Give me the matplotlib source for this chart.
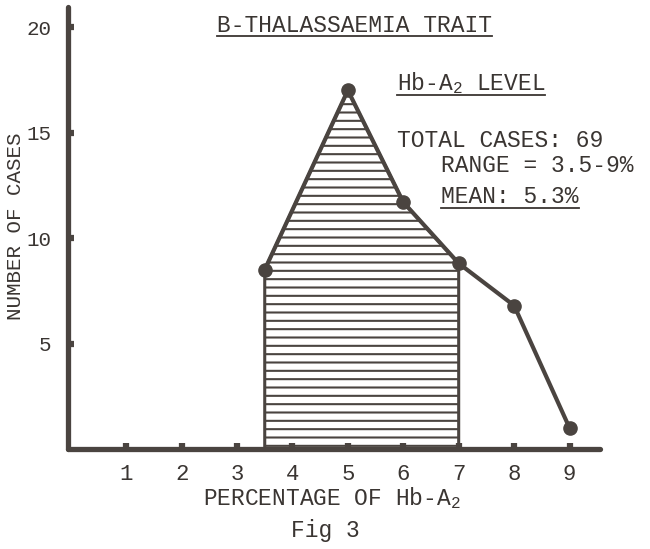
import matplotlib
matplotlib.use("Agg")
import matplotlib.pyplot as plt
from matplotlib.lines import Line2D

# ---- data ----
pct = [3.5, 5, 6, 7, 8, 9]
cases = [8.5, 17, 11.7, 8.8, 6.8, 1.0]
shade_pct = [3.5, 5, 6, 7]
shade_cases = [8.5, 17, 11.7, 8.8]
xticks = [1, 2, 3, 4, 5, 6, 7, 8, 9]
yticks = [5, 10, 15, 20]
ytick_labels = ["5", "10", "15", "20"]

title = "B-THALASSAEMIA TRAIT"
subtitle = "Hb-A$_2$ LEVEL"
info1 = "TOTAL CASES: 69"
info2 = "RANGE = 3.5-9%"
info3 = "MEAN: 5.3%"
xlabel = "PERCENTAGE OF Hb-A$_2$"
ylabel = "NUMBER OF CASES"
caption = "Fig 3"

INK = "#3a3532"
LINE = "#4a4440"
FONT = "Liberation Mono"

plt.rcParams["font.family"] = [FONT, "DejaVu Sans Mono"]
plt.rcParams["mathtext.fontset"] = "custom"
plt.rcParams["mathtext.rm"] = FONT
plt.rcParams["mathtext.it"] = FONT
plt.rcParams["mathtext.default"] = "rm"
plt.rcParams["hatch.linewidth"] = 1.5
plt.rcParams["hatch.color"] = LINE

W, H = 650, 549
fig = plt.figure(figsize=(W / 100, H / 100), dpi=100)
fig.patch.set_facecolor("white")

ax_l, ax_r, ax_t, ax_b = 68, 600, 7, 449
ax = fig.add_axes([ax_l / W, 1 - ax_b / H, (ax_r - ax_l) / W, (ax_b - ax_t) / H])
ax.set_xlim(-0.05, 9.55)
ax.set_ylim(0, 20.95)

for s in ["top", "right"]:
    ax.spines[s].set_visible(False)
for s in ["left", "bottom"]:
    ax.spines[s].set_linewidth(3.8)
    ax.spines[s].set_color(LINE)
    ax.spines[s].set_capstyle("round")

ax.fill_between(shade_pct, 0, shade_cases, facecolor="none", edgecolor=LINE,
                hatch="--", linewidth=2.2, zorder=2)
ax.plot(pct, cases, "-o", color=LINE, lw=3.0, ms=9.5, zorder=3)

ax.set_xticks(xticks)
ax.set_xticklabels([str(v) for v in xticks])
ax.set_yticks(yticks)
ax.set_yticklabels(ytick_labels)
ax.tick_params(axis="both", direction="in", length=4, width=4.5, color=LINE,
               labelcolor=INK, labelsize=16)
ax.tick_params(axis="y", labelsize=15, pad=12)
ax.tick_params(axis="x", pad=11)

ax.set_xlabel(xlabel, fontsize=16.5, color=INK, va="baseline", ha="center")
ax.xaxis.set_label_coords((332 - ax_l) / (ax_r - ax_l), (ax_b - 505) / (ax_b - ax_t))
ax.set_ylabel(ylabel, fontsize=15, color=INK, va="center", ha="center")
ax.yaxis.set_label_coords((16 - ax_l) / (ax_r - ax_l), (ax_b - 226) / (ax_b - ax_t))

def fx(px):
    return px / W

def fy(py):
    return 1 - py / H

FS = 16.5
t_title = fig.text(fx(355), fy(32), title, fontsize=FS, color=INK, ha="center", va="baseline")
t_sub = fig.text(fx(397), fy(90), subtitle, fontsize=FS, color=INK, ha="left", va="baseline")
fig.text(fx(397), fy(147), info1, fontsize=FS, color=INK, ha="left", va="baseline")
fig.text(fx(441), fy(172), info2, fontsize=FS, color=INK, ha="left", va="baseline")
t_mean = fig.text(fx(441), fy(203), info3, fontsize=FS, color=INK, ha="left", va="baseline")
fig.text(fx(325), fy(537), caption, fontsize=FS, color=INK, ha="center", va="baseline")

fig.canvas.draw()
r = fig.canvas.get_renderer()

def underline(t, py):
    bb = t.get_window_extent(renderer=r)
    fig.add_artist(Line2D([bb.x0 / W, bb.x1 / W], [fy(py), fy(py)],
                          transform=fig.transFigure, color=INK, lw=1.3))

underline(t_title, 36)
underline(t_sub, 95)
underline(t_mean, 208)

fig.savefig("out.png", dpi=100, facecolor="white")
